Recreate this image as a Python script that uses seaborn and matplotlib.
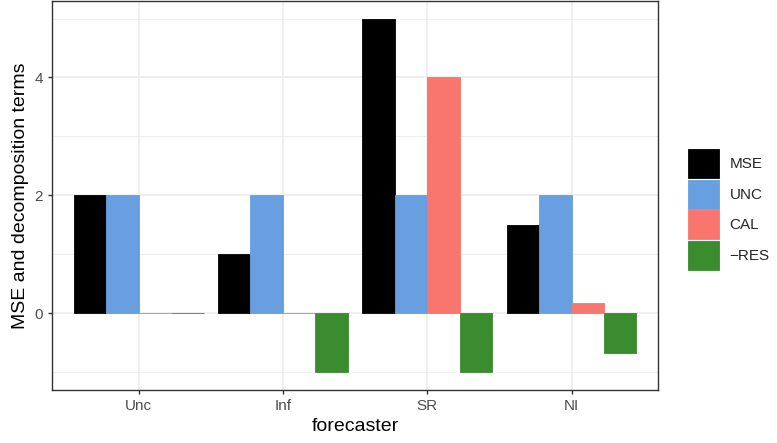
import matplotlib
matplotlib.use("Agg")
import matplotlib.pyplot as plt
import pandas as pd
import seaborn as sns
from matplotlib.ticker import MultipleLocator


forecasters = ["Unc", "Inf", "SR", "NI"]
terms = ["MSE", "UNC", "CAL", "\u2212RES"]
mse = [2.0, 1.0, 5.0, 1.5]
unc = [2.0, 2.0, 2.0, 2.0]
cal = [0.0, 0.0, 4.0, 0.17]
neg_res = [0.0, -1.0, -1.0, -0.67]
term_colors = ["#000000", "#679FE0", "#F8766D", "#3B8B2F"]

sns.set_theme(style="white")
plt.rcParams["font.family"] = ["Liberation Sans", "DejaVu Sans"]

rows = []
for term, values in zip(terms, [mse, unc, cal, neg_res]):
    for fc, v in zip(forecasters, values):
        rows.append({"forecaster": fc, "term": term, "value": v})
df = pd.DataFrame(rows)

fig = plt.figure(figsize=(7.77, 4.43), dpi=100)
ax = fig.add_axes([0.067, 0.12, 0.78, 0.878])

sns.barplot(
    data=df, x="forecaster", y="value", hue="term",
    order=forecasters, hue_order=terms,
    palette=dict(zip(terms, term_colors)),
    width=0.9, gap=0, errorbar=None, saturation=1, ax=ax, zorder=3,
)
# zero-height bars still show as a thin line, like ggplot
for p in ax.patches:
    p.set_edgecolor(p.get_facecolor())
    p.set_linewidth(0.6)

ax.set_xlim(-0.6, 3.6)
ax.set_ylim(-1.3, 5.3)
ax.yaxis.set_major_locator(MultipleLocator(2))
ax.yaxis.set_minor_locator(MultipleLocator(1))
ax.grid(True, which="major", color="#EBEBEB", linewidth=1.1, zorder=0)
ax.grid(True, which="minor", axis="y", color="#EBEBEB", linewidth=0.55, zorder=0)
ax.set_axisbelow(True)

for s in ax.spines.values():
    s.set_color("#333333")
    s.set_linewidth(1.0)
ax.tick_params(axis="both", which="major", length=3, width=1, color="#333333",
               labelcolor="#4D4D4D", labelsize=11, left=True, bottom=True)
ax.tick_params(axis="y", which="minor", length=0)

ax.set_xlabel("forecaster", fontsize=14, color="#000000", labelpad=4)
ax.set_ylabel("MSE and decomposition terms", fontsize=14, color="#000000", labelpad=4)

handles, labels = ax.get_legend_handles_labels()
ax.legend(
    handles, labels, loc="center left", bbox_to_anchor=(0.878, 0.527),
    bbox_transform=fig.transFigure, frameon=False, fontsize=11,
    handlelength=2.0, handleheight=2.55, labelspacing=0.1,
    handletextpad=0.7, borderaxespad=0, title=None,
)

fig.savefig("out.png", dpi=100)
